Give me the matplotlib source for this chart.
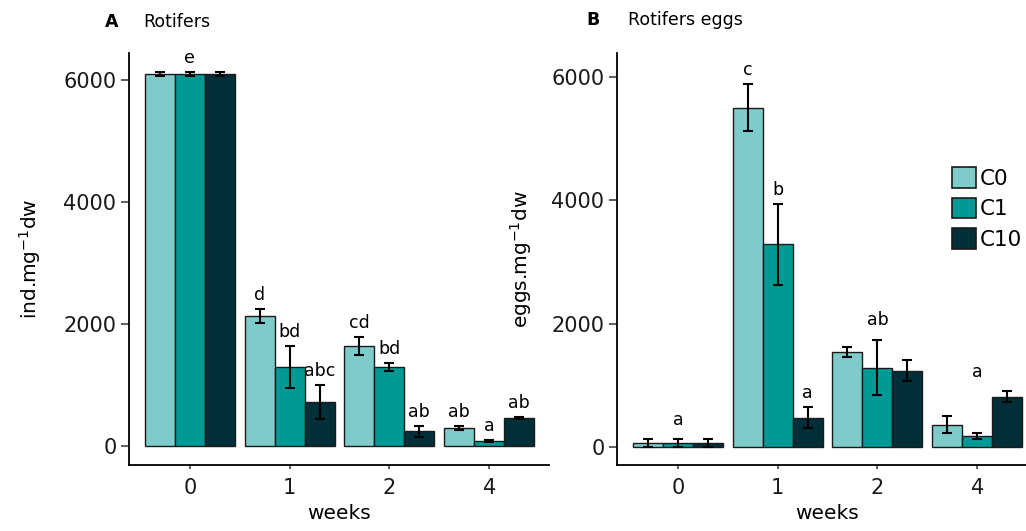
import numpy as np
import matplotlib
matplotlib.use("Agg")
import matplotlib.pyplot as plt
from matplotlib.patches import Patch

# data
weeks = ["0", "1", "2", "4"]
groups = ["C0", "C1", "C10"]
colors = ["#7dcbcb", "#009a96", "#002f3a"]

rot_mean = {"C0": [6100, 2130, 1640, 295],
            "C1": [6100, 1295, 1295, 80],
            "C10": [6100, 720, 245, 460]}
rot_err = {"C0": [30, 120, 150, 35],
           "C1": [30, 340, 65, 20],
           "C10": [30, 285, 90, 20]}
# letters: (week index, bar index, letter)
rot_letters = [(0, 1, "e"), (1, 0, "d"), (1, 1, "bd"), (1, 2, "abc"),
               (2, 0, "cd"), (2, 1, "bd"), (2, 2, "ab"),
               (3, 0, "ab"), (3, 1, "a"), (3, 2, "ab")]

egg_mean = {"C0": [65, 5500, 1545, 358],
            "C1": [65, 3285, 1285, 180],
            "C10": [65, 470, 1235, 812]}
egg_err = {"C0": [60, 380, 80, 140],
           "C1": [60, 660, 450, 50],
           "C10": [60, 170, 170, 90]}
# bar index None -> letter for the whole week group
egg_letters = [(0, None, "a"), (1, 0, "c"), (1, 1, "b"), (1, 2, "a"),
               (2, None, "ab"), (3, None, "a")]

W, H = 1026, 531
fig = plt.figure(figsize=(W / 100, H / 100), dpi=100)
axA = fig.add_axes([129 / W, 66 / H, 420 / W, 412 / H])
axB = fig.add_axes([617 / W, 66 / H, 420 / W, 412 / H])

bw = 0.3
x = np.arange(len(weeks))


def panel(ax, means, errs, letters, ylim, ylabel, lab_x):
    for i, g in enumerate(groups):
        pos = x + (i - 1) * bw
        ax.bar(pos, means[g], bw, color=colors[i], edgecolor="#1a1a1a",
               linewidth=1.0, zorder=2)
        ax.errorbar(pos, means[g], yerr=errs[g], fmt="none", ecolor="black",
                    elinewidth=1.5, capsize=3.5, capthick=1.5, zorder=3)
    for wi, bi, txt in letters:
        if bi is None:
            top = max(means[g][wi] + errs[g][wi] for g in groups)
            ax.text(x[wi], top + 320, txt, ha="center", va="center",
                    fontsize=12.5, clip_on=False)
        else:
            g = groups[bi]
            top = means[g][wi] + errs[g][wi]
            ax.text(x[wi] + (bi - 1) * bw, top + 230, txt, ha="center",
                    va="center", fontsize=12.5, clip_on=False)
    ax.set_xlim(-0.61, 3.6)
    ax.set_ylim(*ylim)
    ax.set_xticks(x)
    ax.set_xticklabels(weeks)
    ax.set_yticks([0, 2000, 4000, 6000])
    for s in ["top", "right"]:
        ax.spines[s].set_visible(False)
    for s in ["left", "bottom"]:
        ax.spines[s].set_linewidth(1.3)
    ax.tick_params(labelsize=15, width=1.1, color="#333333",
                   labelcolor="#1a1a1a")
    ax.tick_params(axis="y", length=6, pad=3)
    ax.tick_params(axis="x", length=3, pad=6)
    ax.set_xlabel("weeks", fontsize=14.5, labelpad=5)
    ax.set_ylabel(ylabel, fontsize=14.5)
    ax.yaxis.set_label_coords(lab_x, 0.5)


panel(axA, rot_mean, rot_err, rot_letters, (-311, 6443),
      "ind.mg$^{\\mathregular{-1}}$dw", -0.205)
panel(axB, egg_mean, egg_err, egg_letters, (-293, 6390),
      "eggs.mg$^{\\mathregular{-1}}$dw", -0.198)

fig.text(112 / W, 1 - 22 / H, "A", fontsize=12.5, fontweight="bold",
         ha="center", va="center")
fig.text(143 / W, 1 - 22 / H, "Rotifers", fontsize=12.5, ha="left", va="center")
fig.text(593 / W, 1 - 20 / H, "B", fontsize=12.5, fontweight="bold",
         ha="center", va="center")
fig.text(628 / W, 1 - 20 / H, "Rotifers eggs", fontsize=12.5, ha="left",
         va="center")

handles = [Patch(facecolor=c, edgecolor="#1a1a1a", linewidth=1.2) for c in colors]
fig.legend(handles, groups, loc="upper left",
           bbox_to_anchor=(937 / W, 1 - 152 / H), frameon=False,
           fontsize=15.5, handlelength=1.1, handleheight=1.1,
           labelspacing=0.42, handletextpad=0.2, borderpad=0.2)

fig.savefig("out.png", dpi=100)
